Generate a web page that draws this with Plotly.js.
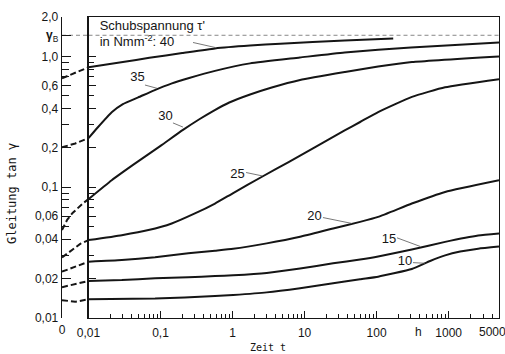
<!DOCTYPE html>
<html><head><meta charset="utf-8">
<script src="https://cdn.plot.ly/plotly-3.0.1.min.js"></script>
<style>html,body{margin:0;padding:0;background:#fff}#chart{width:505px;height:354px}</style>
</head><body><div id="chart"></div>
<script>
// ---------- data (time t in h, shear strain tan gamma) ----------
const t40 = [0.01, 0.03, 0.07, 0.2, 0.57, 1.75, 4.6, 36, 170];
const g40 = [0.826, 0.905, 0.975, 1.06, 1.15, 1.21, 1.25, 1.32, 1.37];
const t35 = [0.01, 0.0135, 0.021, 0.03, 0.049, 0.08, 0.144, 0.25, 0.57, 1.75, 8.6, 36, 300, 5000];
const g35 = [0.237, 0.287, 0.374, 0.432, 0.486, 0.548, 0.622, 0.683, 0.775, 0.884, 0.98, 1.073, 1.17, 1.279];
const t30 = [0.01, 0.021, 0.0415, 0.1, 0.205, 0.35, 0.536, 0.9, 1.75, 3.5, 8.66, 36.4, 105, 309, 5000];
const g30 = [0.081, 0.113, 0.148, 0.207, 0.274, 0.332, 0.382, 0.444, 0.511, 0.578, 0.66, 0.76, 0.837, 0.906, 1.0];
const t25 = [0.01, 0.029, 0.068, 0.143, 0.3, 0.57, 1.02, 2.6, 6, 36, 59, 105, 309, 890, 5000];
const g25 = [0.0394, 0.043, 0.047, 0.0528, 0.063, 0.075, 0.0902, 0.1207, 0.1557, 0.272, 0.315, 0.375, 0.49, 0.58, 0.67];
const t20 = [0.01, 0.029, 0.084, 0.243, 0.571, 1.02, 2.98, 8.66, 24.9, 58.9, 105, 308, 893, 5000];
const g20 = [0.0269, 0.0277, 0.0291, 0.0312, 0.0327, 0.0338, 0.0372, 0.0418, 0.0484, 0.0543, 0.0593, 0.075, 0.092, 0.113];
const t15 = [0.01, 0.029, 0.084, 0.243, 0.571, 1.02, 2.98, 8.66, 24.9, 58.9, 105, 308, 893, 2570, 5000];
const g15 = [0.0192, 0.0195, 0.0201, 0.0205, 0.0209, 0.0212, 0.0221, 0.0239, 0.0262, 0.028, 0.0295, 0.0334, 0.0382, 0.0427, 0.0442];
const t10 = [0.01, 0.084, 0.571, 1.02, 2.98, 8.66, 24.9, 58.9, 105, 308, 553, 893, 1445, 2570, 5000];
const g10 = [0.0139, 0.0141, 0.0147, 0.015, 0.0157, 0.0169, 0.0184, 0.0198, 0.0207, 0.0237, 0.0273, 0.0301, 0.0322, 0.0339, 0.0352];

// dashed extrapolation between t = 0 and t = 0.01 h
const e40t = [0, 0.01];                 const e40g = [0.68, 0.826];
const e35t = [0, 0.005, 0.01];          const e35g = [0.202, 0.216, 0.237];
const e30t = [0, 0.002, 0.004, 0.006, 0.008, 0.01]; const e30g = [0.047, 0.0565, 0.0635, 0.0695, 0.0755, 0.081];
const e25t = [0, 0.004, 0.007, 0.01];   const e25g = [0.029, 0.0335, 0.037, 0.0394];
const e20t = [0, 0.01];                 const e20g = [0.0226, 0.0269];
const e15t = [0, 0.01];                 const e15g = [0.0172, 0.0192];
const e10t = [0, 0.005, 0.01];          const e10g = [0.0137, 0.0133, 0.0139];

const gammaB = 1.45;

// ticks
const xTickVals = [0.01, 0.1, 1, 10, 100, 1000];
const xTickText = ['0,01', '0,1', '1', '10', '100', '1000'];
const yTickVals = [0.01, 0.02, 0.04, 0.06, 0.1, 0.2, 0.4, 0.6, 1.0, gammaB, 2.0];
const yTickText = ['0,01', '0,02', '0,04', '0,06', '0,1', '0,2', '0,4', '0,6', '1,0', '<b>γ</b><sub>B</sub>', '2,0'];
const yMinor = [0.03, 0.05, 0.07, 0.08, 0.09, 0.3, 0.5, 0.7, 0.8, 0.9];
const xMinor = [];
for (let d = 0.01; d < 2000; d *= 10) for (let k = 2; k <= 9; k++) { const v = +(d * k).toPrecision(3); if (v < 5000) xMinor.push(v); }

// curve labels (text, anchor) and leader lines
const labels = [
  {text: '35', x: 0.048, y: 0.684},
  {text: '30', x: 0.117, y: 0.344},
  {text: '25', x: 1.17, y: 0.124},
  {text: '20', x: 13.7, y: 0.0592},
  {text: '15', x: 149, y: 0.0395},
  {text: '10', x: 248, y: 0.0268}
];
const leaders = [
  {x: [0.2825, 0.571], y: [1.277, 1.17]},
  {x: [0.0608, 0.0894], y: [0.604, 0.57]},
  {x: [0.1488, 0.205], y: [0.31, 0.288]},
  {x: [1.54, 2.57], y: [0.1295, 0.122]},
  {x: [18.0, 45.5], y: [0.0586, 0.0528]},
  {x: [192, 400], y: [0.041, 0.0353]},
  {x: [320, 470], y: [0.0265, 0.0262]}
];

// ---------- traces ----------
const ink = '#151515';
const main = [[t40, g40], [t35, g35], [t30, g30], [t25, g25], [t20, g20], [t15, g15], [t10, g10]];
const ext = [[e40t, e40g], [e35t, e35g], [e30t, e30g], [e25t, e25g], [e20t, e20g], [e15t, e15g], [e10t, e10g]];
const traces = [];
traces.push({x: [0, 0.01], y: [gammaB, gammaB], xaxis: 'x2', yaxis: 'y2', mode: 'lines', line: {color: '#888', width: 1, dash: '4px,3px'}, hoverinfo: 'skip'});
traces.push({x: [0.01, 5000], y: [gammaB, gammaB], xaxis: 'x', yaxis: 'y', mode: 'lines', line: {color: '#888', width: 1, dash: '4px,3px'}, hoverinfo: 'skip'});
main.forEach(([x, y]) => traces.push({x, y, xaxis: 'x', yaxis: 'y', mode: 'lines', line: {color: ink, width: 2, shape: 'spline', smoothing: 0.45}}));
ext.forEach(([x, y]) => traces.push({x, y, xaxis: 'x2', yaxis: 'y2', mode: 'lines', line: {color: ink, width: 2, dash: '6px,3px'}}));
leaders.forEach(l => traces.push({x: l.x, y: l.y, xaxis: 'x', yaxis: 'y', mode: 'lines', line: {color: '#555', width: 0.8}, hoverinfo: 'skip'}));
traces.push({x: labels.map(l => l.x), y: labels.map(l => l.y), text: labels.map(l => l.text), mode: 'text', textposition: 'middle center', textfont: {family: 'Liberation Sans', size: 13, color: ink}, cliponaxis: false, xaxis: 'x', yaxis: 'y'});
traces.push({x: [0.0143, 0.0143], y: [1.69, 1.262], text: ["Schubspannung τ'", 'in Nmm<sup>-2</sup>: 40'], mode: 'text', textposition: 'middle right', textfont: {family: 'Liberation Sans', size: 13, color: ink}, cliponaxis: false, xaxis: 'x', yaxis: 'y'});

const tf = {family: 'Liberation Sans', size: 12, color: ink};
const d1 = (88.5 - 62) / 437;
const yRange = [-2, Math.log10(2)];
const layout = {
  width: 505, height: 354,
  margin: {l: 62, r: 6, t: 17, b: 36},
  paper_bgcolor: '#fff', plot_bgcolor: '#fff',
  showlegend: false,
  xaxis: {type: 'log', domain: [d1, 1], range: [-2, Math.log10(5000)], anchor: 'y',
    showline: true, linecolor: ink, linewidth: 1.3, mirror: true, showgrid: false, zeroline: false,
    ticks: 'inside', ticklen: 7, tickwidth: 1, tickcolor: ink, tickvals: xTickVals, ticktext: xTickText, tickfont: tf,
    ticklabelstandoff: 3,
    minor: {tickvals: xMinor, ticks: 'inside', ticklen: 4, tickwidth: 1, tickcolor: ink, showgrid: false}},
  xaxis2: {domain: [0, d1], range: [0, 0.01], anchor: 'y2', showline: false, showgrid: false, zeroline: false,
    ticks: '', tickvals: [0], ticktext: ['0'], tickfont: tf, ticklabelstandoff: 3},
  yaxis: {type: 'log', range: yRange, anchor: 'x', showline: true, linecolor: ink, linewidth: 1.3, mirror: true,
    showgrid: false, zeroline: false, ticks: 'inside', ticklen: 7, tickwidth: 1, tickcolor: ink,
    tickvals: yTickVals.filter(v => v !== gammaB), showticklabels: false,
    minor: {tickvals: yMinor, ticks: 'inside', ticklen: 5, tickwidth: 1, tickcolor: ink, showgrid: false}},
  yaxis2: {type: 'log', range: yRange, anchor: 'x2', showline: true, linecolor: ink, linewidth: 1.3,
    showgrid: false, zeroline: false, ticks: 'inside', ticklen: 9, tickwidth: 1, tickcolor: ink,
    tickvals: yTickVals, ticktext: yTickText, tickfont: tf,
    minor: {tickvals: yMinor, ticks: 'inside', ticklen: 7, tickwidth: 1, tickcolor: ink, showgrid: false}},
  annotations: [
    {text: 'Zeit t', xref: 'paper', yref: 'paper', x: (268 - 62) / 437, y: (318 - 347) / 301, yanchor: 'middle', xanchor: 'center', showarrow: false, font: {family: 'DejaVu Sans Mono', size: 10, color: ink}},
    {text: 'Gleitung tan γ', xref: 'paper', yref: 'paper', x: (12 - 62) / 437, y: (318 - 194) / 301, xanchor: 'center', yanchor: 'middle', textangle: -90, showarrow: false, font: {family: 'DejaVu Sans Mono', size: 12, color: ink}},
    {text: 'h', xref: 'paper', yref: 'paper', x: (418 - 62) / 437, y: (318 - 332) / 301, xanchor: 'center', yanchor: 'middle', showarrow: false, font: tf},
    {text: '5000', xref: 'paper', yref: 'paper', x: (492 - 62) / 437, y: (318 - 332) / 301, xanchor: 'center', yanchor: 'middle', showarrow: false, font: tf}
  ]
};
Plotly.newPlot('chart', traces, layout, {staticPlot: true, displayModeBar: false});
</script></body></html>
